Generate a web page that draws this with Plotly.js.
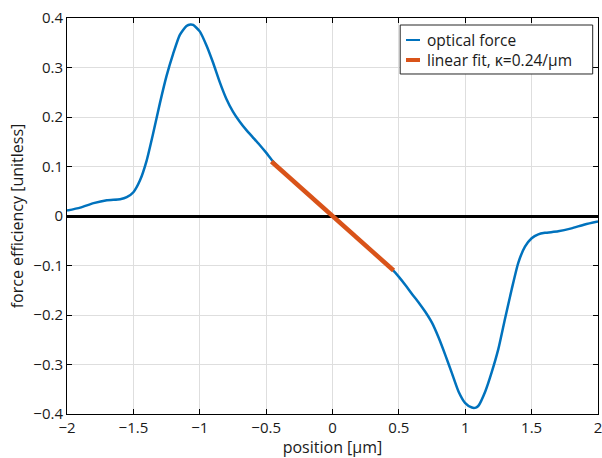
<!DOCTYPE html>
<html><head><meta charset="utf-8">
<script src="https://cdn.plot.ly/plotly-3.0.1.min.js"></script>
<style>html,body{margin:0;padding:0;background:#fff}#chart{width:602px;height:458px}</style>
</head><body><div id="chart"></div>
<script>
const posX = [-2.0,-1.9,-1.8,-1.7,-1.6,-1.55,-1.5,-1.45,-1.4,-1.35,-1.3,-1.25,-1.2,-1.15,-1.1,-1.07,-1.05,-1.0,-0.95,-0.9,-0.85,-0.8,-0.75,-0.7,-0.65,-0.6,-0.55,-0.5,-0.45,-0.4,-0.3,-0.2,-0.1,0,
  0.1,0.2,0.3,0.4,0.45,0.5,0.55,0.6,0.65,0.7,0.75,0.8,0.85,0.9,0.95,1.0,1.05,1.08,1.1,1.15,1.2,1.25,1.3,1.35,1.4,1.45,1.5,1.55,1.6,1.7,1.8,1.9,2.0];
const forceY = [0.011,0.017,0.026,0.032,0.034,0.038,0.048,0.072,0.112,0.168,0.228,0.283,0.328,0.366,0.384,0.387,0.386,0.373,0.345,0.310,0.271,0.237,0.211,0.191,0.174,0.159,0.144,0.128,0.111,0.096,0.071,0.047,0.023,0,
  -0.023,-0.047,-0.071,-0.095,-0.108,-0.123,-0.140,-0.158,-0.175,-0.194,-0.216,-0.246,-0.281,-0.318,-0.355,-0.378,-0.387,-0.387,-0.383,-0.355,-0.315,-0.268,-0.207,-0.148,-0.094,-0.062,-0.045,-0.037,-0.034,-0.031,-0.025,-0.017,-0.011];
const fitX = [-0.46, 0.46];
const fitY = [0.110, -0.110];
const xTicks = [-2,-1.5,-1,-0.5,0,0.5,1,1.5,2];
const xTickLabels = ['\u22122','\u22121.5','\u22121','\u22120.5','0','0.5','1','1.5','2'];
const yTicks = [-0.4,-0.3,-0.2,-0.1,0,0.1,0.2,0.3,0.4];
const yTickLabels = ['\u22120.4','\u22120.3','\u22120.2','\u22120.1','0','0.1','0.2','0.3','0.4'];
const legendNames = ['optical force', 'linear fit, \u03ba=0.24/\u03bcm'];
const colors = ['#0072BD', '#D95319'];

const font = 'Open Sans, Noto Sans, sans-serif';
const txt = '#1a1a1a';
const traces = [
  {x: posX, y: forceY, type:'scatter', mode:'lines', name:legendNames[0],
   line:{color:colors[0], width:2.5, shape:'spline', smoothing:0.6}},
  {x: fitX, y: fitY, type:'scatter', mode:'lines', name:legendNames[1],
   line:{color:colors[1], width:4.5}}
];
const axisCommon = {
  showline:true, linecolor:'#000', linewidth:1, mirror:'ticks',
  ticks:'inside', ticklen:5, tickwidth:1, tickcolor:'#000',
  showgrid:true, gridcolor:'#dedede', gridwidth:1, ticklabeloverflow:'allow',
  tickfont:{family:font, size:15, color:txt}
};
// custom legend (paper coords)
const legY = [0.9444, 0.8939];
const shapes = [
  {type:'rect', xref:'paper', yref:'paper', x0:0.6275, x1:0.990, y0:0.8586, y1:0.9823,
   fillcolor:'#fff', line:{color:'#262626', width:1}, layer:'above'}
];
const annotations = [];
legendNames.forEach((n,i)=>{
  shapes.push({type:'line', xref:'paper', yref:'paper', x0:0.6384, x1:0.6648, y0:legY[i], y1:legY[i],
    line:{color:colors[i], width:i===0?2:4}, layer:'above'});
  annotations.push({xref:'paper', yref:'paper', x:0.6742, y:legY[i], xanchor:'left', yanchor:'middle',
    text:n, showarrow:false, font:{family:font, size:15.5, color:txt}});
});
const layout = {
  width:602, height:458,
  margin:{l:67, r:4, t:18, b:44},
  paper_bgcolor:'#fff', plot_bgcolor:'#fff',
  showlegend:false, shapes:shapes, annotations:annotations,
  xaxis: Object.assign({}, axisCommon, {range:[-2,2], tickvals:xTicks, ticktext:xTickLabels,
    zeroline:false, title:{text:'position [\u03bcm]', font:{family:font, size:16, color:txt}, standoff:4}}),
  yaxis: Object.assign({}, axisCommon, {range:[-0.4,0.4], tickvals:yTicks, ticktext:yTickLabels,
    zeroline:true, zerolinecolor:'#000', zerolinewidth:3,
    title:{text:'force efficiency [unitless]', font:{family:font, size:16, color:txt}, standoff:5}})
};
Plotly.newPlot('chart', traces, layout, {displayModeBar:false, staticPlot:true});
</script></body></html>
